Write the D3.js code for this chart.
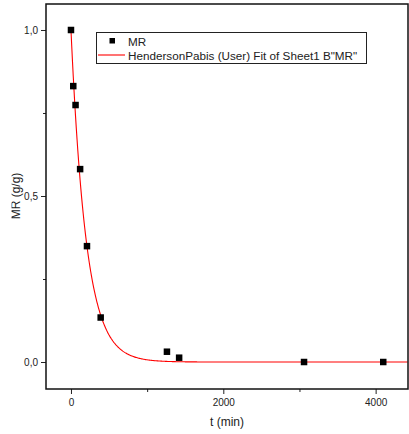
<!DOCTYPE html>
<html><head><meta charset="utf-8">
<script src="https://cdn.jsdelivr.net/npm/d3@7"></script>
<style>body{margin:0;background:#fff}svg{display:block}text{font-family:"Liberation Sans",Arial,sans-serif;fill:#222}</style>
</head><body>
<svg id="c" width="409" height="434"></svg>
<script>
const timeMin = [0, 30, 60, 120, 210, 390, 1260, 1420, 3060, 4100];
const moistureRatio = [1.0, 0.831, 0.774, 0.581, 0.349, 0.134, 0.031, 0.013, 0.0, 0.0];
const fitA = 1.0, fitK = 0.00502;
const xTicks = [0, 2000, 4000];
const xMinor = [1000, 3000];
const yTicks = [0.0, 0.5, 1.0];
const yMinor = [0.25, 0.75];
const legendLabels = ["MR", "HendersonPabis (User) Fit of Sheet1 B\"MR\""];

const svg = d3.select("#c");
const L = 46, R = 408, T = 4, B = 389;
const x = d3.scaleLinear().domain([-328, 4425]).range([L, R]);
const y = d3.scaleLinear().domain([-0.0813, 1.0783]).range([B, T]);
const fmt = d => d3.format(".1f")(d).replace(".", ",");

// axes
svg.append("g").attr("transform", `translate(0,${B})`)
  .call(d3.axisBottom(x).tickValues(xTicks).tickSize(5).tickPadding(5).tickFormat(d3.format("d")));
svg.append("g").attr("transform", `translate(0,${B})`)
  .call(d3.axisBottom(x).tickValues(xMinor).tickSize(3).tickFormat(""));
svg.append("g").attr("transform", `translate(${L},0)`)
  .call(d3.axisLeft(y).tickValues(yTicks).tickSize(5).tickPadding(3).tickFormat(fmt));
svg.append("g").attr("transform", `translate(${L},0)`)
  .call(d3.axisLeft(y).tickValues(yMinor).tickSize(3).tickFormat(""));
svg.selectAll(".domain").remove();
svg.selectAll(".tick line").attr("stroke", "#222").attr("stroke-width", 1);
svg.selectAll(".tick text").attr("font-size", 10).attr("fill", "#222")
  .style("font-family", '"Liberation Sans",Arial,sans-serif');

// fit curve
const curveT = d3.range(0, 4425, 10);
const line = d3.line().x(t => x(t)).y(t => y(fitA * Math.exp(-fitK * t)));
svg.append("path").datum(curveT).attr("d", line)
  .attr("fill", "none").attr("stroke", "#ff0000").attr("stroke-width", 1.1);

// points
const s = 6.5;
svg.append("g").selectAll("rect").data(timeMin).join("rect")
  .attr("x", (d) => x(d) - s / 2)
  .attr("y", (d, i) => y(moistureRatio[i]) - s / 2)
  .attr("width", s).attr("height", s).attr("fill", "#000");

// frame
svg.append("rect").attr("x", L).attr("y", T).attr("width", R - L).attr("height", B - T)
  .attr("fill", "none").attr("stroke", "#111").attr("stroke-width", 1.5);

// legend
const lg = svg.append("g");
lg.append("rect").attr("x", 96.5).attr("y", 32.5).attr("width", 270).attr("height", 31)
  .attr("fill", "#fff").attr("stroke", "#222").attr("stroke-width", 1);
lg.append("rect").attr("x", 109.5).attr("y", 38).attr("width", 5.5).attr("height", 5.5).attr("fill", "#000");
lg.append("line").attr("x1", 98).attr("x2", 125).attr("y1", 55).attr("y2", 55)
  .attr("stroke", "#ff0000").attr("stroke-width", 1.1);
lg.selectAll("text").data(legendLabels).join("text")
  .attr("x", 128).attr("y", (d, i) => 45.5 + i * 14)
  .attr("font-size", 11.7).text(d => d);

// axis titles
svg.append("text").attr("x", 227).attr("y", 426).attr("text-anchor", "middle")
  .attr("font-size", 12).text("t (min)");
svg.append("defs").append("clipPath").attr("id", "yc")
  .append("rect").attr("x", 11.5).attr("y", 0).attr("width", 40).attr("height", 434);
svg.append("g").attr("clip-path", "url(#yc)")
  .append("text")
  .attr("transform", "translate(20,196) rotate(-90)").attr("text-anchor", "middle")
  .attr("font-size", 12).text("MR (g/g)");
</script>
</body></html>
